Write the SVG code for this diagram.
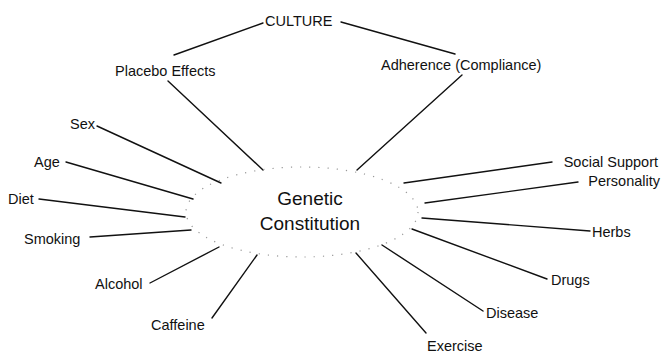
<svg xmlns="http://www.w3.org/2000/svg" width="663" height="356" viewBox="0 0 663 356">
<style>
text{font-family:"Liberation Sans",Arial,sans-serif;font-size:14.5px;fill:#111}
.big{font-size:19px}
.c line{stroke:#111;stroke-width:1.4;stroke-linecap:round}
.ring{fill:none;stroke:#999;stroke-width:1.2;stroke-dasharray:1.2 8}
</style>
<rect width="663" height="356" fill="#fff"/>
<g id="connectors" class="c">
<line x1="263" y1="23" x2="174" y2="55"/>
<line x1="341" y1="22" x2="455" y2="54"/>
<line x1="168" y1="81" x2="263" y2="170"/>
<line x1="462" y1="75" x2="357" y2="170"/>
<line x1="97" y1="126" x2="221" y2="183"/>
<line x1="66" y1="162" x2="193" y2="199"/>
<line x1="39" y1="199" x2="185" y2="217"/>
<line x1="90" y1="237" x2="191" y2="230"/>
<line x1="150" y1="283" x2="219" y2="247"/>
<line x1="212" y1="318" x2="257" y2="255"/>
<line x1="404" y1="183" x2="552" y2="162"/>
<line x1="425" y1="203" x2="578" y2="182"/>
<line x1="422" y1="218" x2="590" y2="231"/>
<line x1="412" y1="229" x2="547" y2="279"/>
<line x1="382" y1="245" x2="483" y2="311"/>
<line x1="356" y1="253" x2="426" y2="333"/>
</g>
<g id="genetic">
<ellipse class="ring" cx="302" cy="212" rx="116" ry="45"/>
<text class="big" x="310" y="205" text-anchor="middle">Genetic</text>
<text class="big" x="310" y="230" text-anchor="middle">Constitution</text>
</g>
<g id="culture"><text x="265" y="26">CULTURE</text></g>
<g id="placebo"><text x="115" y="76">Placebo Effects</text></g>
<g id="adherence"><text x="381" y="70">Adherence (Compliance)</text></g>
<g id="sex"><text x="70" y="129">Sex</text></g>
<g id="age"><text x="34" y="167">Age</text></g>
<g id="diet"><text x="8" y="204">Diet</text></g>
<g id="smoking"><text x="24" y="244">Smoking</text></g>
<g id="alcohol"><text x="95" y="289">Alcohol</text></g>
<g id="caffeine"><text x="151" y="330">Caffeine</text></g>
<g id="social"><text x="658" y="167" text-anchor="end">Social Support</text></g>
<g id="personality"><text x="660" y="186" text-anchor="end">Personality</text></g>
<g id="herbs"><text x="592" y="237">Herbs</text></g>
<g id="drugs"><text x="551" y="285">Drugs</text></g>
<g id="disease"><text x="486" y="318">Disease</text></g>
<g id="exercise"><text x="427" y="351">Exercise</text></g>
</svg>
